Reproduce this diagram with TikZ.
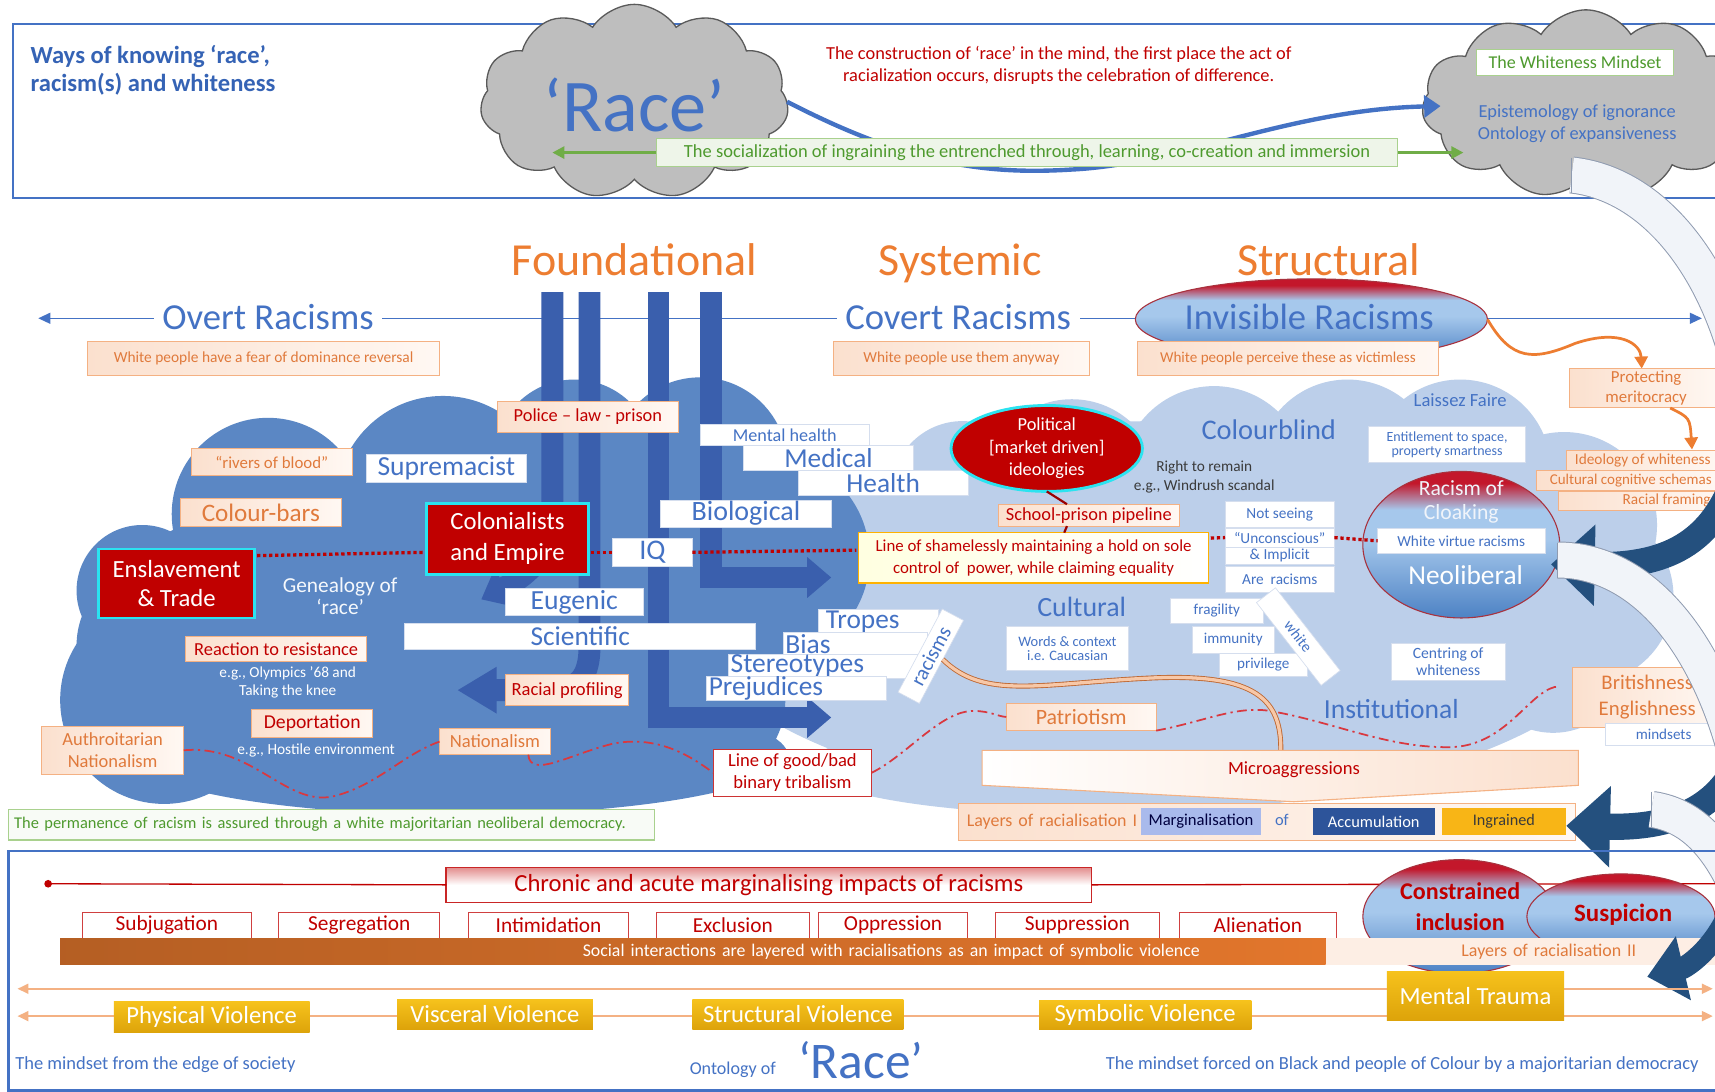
\documentclass[tikz,border=0pt]{standalone}
\usepackage{fontspec}
\setmainfont{Carlito}
\usetikzlibrary{shapes.geometric,shapes.symbols,arrows.meta,calc}

% palette
\definecolor{tblue}{HTML}{4472C4}
\definecolor{dblue}{HTML}{3563B5}
\definecolor{barblue}{HTML}{3A5FAD}
\definecolor{cloudL}{HTML}{5B87C4}
\definecolor{cloudR}{HTML}{BCCFEA}
\definecolor{tred}{HTML}{C00000}
\definecolor{torg}{HTML}{ED7D31}
\definecolor{sorg}{HTML}{E07A3C}
\definecolor{pborder}{HTML}{F4B183}
\definecolor{peachL}{HTML}{FBE0CE}
\definecolor{peachR}{HTML}{FFF8F3}
\definecolor{tgreen}{HTML}{4E9A2E}
\definecolor{garrow}{HTML}{70AD47}
\definecolor{gborder}{HTML}{A9D18E}
\definecolor{gfill}{HTML}{EEF5E9}
\definecolor{navy}{HTML}{24507E}
\definecolor{cyanb}{HTML}{2BE3F0}
\definecolor{cgray}{HTML}{BEBEBE}
\definecolor{cgrayline}{HTML}{5A5A5A}
\definecolor{wline}{HTML}{D5DEEE}
\definecolor{arcfill}{HTML}{F1F4F9}
\definecolor{arcline}{HTML}{8F9BB0}
\definecolor{ebot}{HTML}{4D82C4}
\definecolor{emid}{HTML}{A6C8EC}
\definecolor{etop}{HTML}{C3172B}
\definecolor{dashred}{HTML}{D9383F}
\definecolor{lorange}{HTML}{F4B183}
\definecolor{barorange}{HTML}{E2762C}
\definecolor{goldT}{HTML}{F6C21C}
\definecolor{goldB}{HTML}{DDA30A}
\definecolor{ellline}{HTML}{A8323E}
\definecolor{darktext}{HTML}{3A3A3A}

\pgfdeclareverticalshading{redtop}{100bp}{color(0bp)=(ebot); color(25bp)=(ebot); color(52bp)=(emid); color(62bp)=(emid); color(71bp)=(etop); color(75bp)=(etop); color(100bp)=(etop)}

\newcommand\fz[2]{\fontsize{#1}{#2}\selectfont}

\tikzset{
  wh/.style 2 args={minimum width=#1,minimum height=#2},
  wb/.style={fill=white,draw=wline,line width=0.6pt,text=tblue},
  pb/.style={left color=peachL,right color=peachR,draw=pborder,line width=0.9pt},
  rb/.style={fill=tred,draw=cyanb,line width=2.6pt,text=white,align=center},
  rowbox/.style={fill=white,draw=tred!75,line width=0.9pt,text=tred,minimum height=24,font=\fz{19.5}{22}},
  goldbox/.style={top color=goldT,bottom color=goldB,text=white,font=\fz{22.5}{26}},
  bar/.style={line width=20pt,barblue},
  reddot/.style={draw=tred,line width=3pt,dash pattern=on 3pt off 2.5pt},
  rdash/.style={draw=dashred,line width=1.6pt,dash pattern=on 9pt off 4pt on 2pt off 4pt},
  lightarc/.style={draw=arcline,line width=0.9pt,double=arcfill,double distance=32pt},
  navyarr/.style={navy,line width=24pt,-{Triangle[length=40pt,width=72pt]}},
  head/.style={text=torg,font=\fz{42}{48},anchor=base},
  sidetxt/.style={anchor=east,text=sorg,font=\fz{14}{16}},
}

\begin{document}
\begin{tikzpicture}[x=1pt,y=-1pt,every node/.style={inner sep=0pt,outer sep=0pt}]
\useasboundingbox (0,0) rectangle (1568,998);
\clip (0,0) rectangle (1568,998);
\fill[white] (0,0) rectangle (1568,998);

% ================= upper band: ways of knowing
\draw[tblue,line width=2.5pt] (12,22) rectangle (1600,181);
\node[anchor=west,text=dblue,font=\fz{22.5}{26}\bfseries,align=left] (title) at (28,64) {Ways of knowing ‘race’,\\racism(s) and whiteness};

\node[cloud,cloud puffs=11,cloud puff arc=115,aspect=1.6,draw=cgrayline,fill=cgray,line width=1.2pt,minimum width=282,minimum height=178] (racecloud) at (580,93) {};
\node[cloud,cloud puffs=11,cloud puff arc=115,aspect=1.7,draw=cgrayline,fill=cgray,line width=1.2pt,minimum width=300,minimum height=172] (wcloud) at (1450,95) {};
\node[text=tblue,font=\fz{68}{72}] (racetxt) at (580,96) {‘Race’};

\node[text=tred,font=\fz{16.8}{20},align=center] (construct) at (968,60) {The construction of ‘race’ in the mind, the first place the act of\\racialization occurs, disrupts the celebration of difference.};

\draw[tblue,line width=4pt,-{Triangle[length=15pt,width=20pt]}] (racecloud.east) .. controls (830,150) and (900,160) .. (980,155) .. controls (1080,150) and (1180,100) .. ($(wcloud.west)+(16,2)$);

\node[draw=gborder,fill=gfill,line width=1pt,text=tgreen,font=\fz{16.9}{19},wh={678}{25}] (social) at (939,139.5) {The socialization of ingraining the entrenched through, learning, co-creation and immersion};
\coordinate (gleft) at (505,139.5);
\coordinate (gright) at (1338,139.5);
\draw[garrow,line width=2.5pt,-{Triangle[length=11pt,width=11pt]}] (social.west) -- (gleft);
\draw[garrow,line width=2.5pt,-{Triangle[length=11pt,width=11pt]}] (social.east) -- (gright);

\node[draw=gborder,fill=white,line width=1pt,text=tgreen,font=\fz{16.5}{19},wh={180}{24}] (wmind) at (1440,57) {The Whiteness Mindset};
\node[text=tblue,font=\fz{16.8}{20},align=center] (epis) at (1442,113) {Epistemology of ignorance\\Ontology of expansiveness};

% light return arc leaving the whiteness cloud
\draw[lightarc] (1437,160) .. controls (1510,168) and (1568,240) .. (1592,340);
\draw[arcline,line width=0.9pt] (1437,144) -- (1437,176);

% ================= headings and the overt / covert / invisible axis
\node[head] (found) at (580,252) {Foundational};
\node[head] (syst) at (878,252) {Systemic};
\node[head] (struct) at (1215,252) {Structural};

\coordinate (axisL) at (35,291);
\coordinate (axisR) at (1556,291);
\draw[tblue,line width=1.3pt,{Triangle[length=11pt,width=10pt]}-{Triangle[length=11pt,width=10pt]}] (axisL) -- (axisR);
\node[fill=white,inner xsep=8pt,inner ysep=4pt,text=tblue,font=\fz{33.5}{38}] (overt) at (245,290) {Overt Racisms};
\node[fill=white,inner xsep=8pt,inner ysep=4pt,text=tblue,font=\fz{33.5}{38}] (covert) at (876,290) {Covert Racisms};
\node[ellipse,shade,shading=redtop,draw=ellline,line width=1pt,wh={322}{74}] (invis) at (1199,292) {};
\node[text=tblue,font=\fz{33.5}{38}] (invistxt) at (1197,290) {Invisible Racisms};

\node[pb,wh={322}{31},text=sorg,font=\fz{14.1}{16}] (fear) at (241,327.5) {White people have a fear of dominance reversal};
\node[pb,wh={234}{31},text=sorg,font=\fz{14}{16}] (anyway) at (879,327.5) {White people use them anyway};
\node[pb,wh={275}{31},text=sorg,font=\fz{13.8}{16}] (victim) at (1177.5,327.5) {White people perceive these as victimless};

% ================= the two clouds
\foreach \c/\r in {{980,445}/80,{1110,438}/85,{1232,430}/83,{1335,430}/83,{1430,480}/85,{1450,545}/80,{880,450}/65,{1420,600}/70}
  \fill[cloudR] (\c) circle [radius=\r];
\fill[cloudR] (1060,560) ellipse [x radius=430,y radius=175];
\fill[cloudR] (1000,700) ellipse [x radius=260,y radius=45];

\foreach \c/\r in {{245,470}/88,{130,540}/60,{405,460}/98,{525,420}/73,{640,425}/80,{700,510}/95,{150,640}/95,{640,640}/78}
  \fill[cloudL] (\c) circle [radius=\r];
\fill[cloudL] (400,590) ellipse [x radius=330,y radius=155];
\fill[cloudL] (420,690) ellipse [x radius=300,y radius=55];

% ================= genealogy bars
\draw[bar,-{Triangle[length=24pt,width=38pt]}] (505,267) -- (505,470) .. controls (505,505) and (485,525) .. (440,548);
\draw[bar,-{Triangle[length=36pt,width=40pt]}] (539,267) -- (539,590) .. controls (539,625) and (525,631) .. (495,631) -- (418,631);
\draw[bar,line join=miter,-{Triangle[length=22pt,width=36pt]}] (602,267) -- (602,656) -- (760,656);
\draw[bar,line join=miter,-{Triangle[length=22pt,width=36pt]}] (650,267) -- (650,528) -- (760,528);

% ================= left cloud labels
\node[pb,wh={165}{28},text=tred,font=\fz{16.8}{19}] (police) at (537.5,381) {Police – law - prison};
\node[wb,wh={155}{19},font=\fz{16.6}{19}] (mental) at (717.5,397.5) {Mental health};
\node[wb,wh={155}{23},font=\fz{25}{28}] (medical) at (757.5,418.5) {Medical};
\node[wb,wh={155}{23},font=\fz{25}{28}] (health) at (807.5,441.5) {Health};
\node[pb,wh={147}{25},text=sorg,font=\fz{15.4}{18}] (rivers) at (248.5,422.5) {“rivers of blood”};
\node[wb,wh={146}{26},font=\fz{25.2}{28}] (suprem) at (408,428) {Supremacist};
\node[pb,wh={147}{25},text=sorg,font=\fz{23}{26}] (colourbars) at (238.5,468.5) {Colour-bars};
\node[rb,wh={148}{65},font=\fz{22.6}{28}] (colonial) at (464,492.5) {Colonialists\\and Empire};
\node[wb,wh={156}{25},font=\fz{25.6}{28}] (biological) at (682,469.5) {Biological};
\node[wb,wh={73}{26},font=\fz{26}{28}] (iq) at (596.5,505) {IQ};
\node[rb,wh={143}{63},font=\fz{22.6}{26}] (enslave) at (161.5,533.5) {Enslavement\\\& Trade};
\node[text=white!85!cloudR,font=\fz{19.5}{23}] (genealogy) at (311,545) {\shortstack{Genealogy of\\‘race’}};
\node[wb,wh={126}{25},font=\fz{25.3}{28}] (eugenic) at (525,550.5) {Eugenic};
\node[wb,wh={321}{24},font=\fz{25}{28}] (scientific) at (530.5,582) {Scientific};
\node[pb,wh={165}{23},text=tred,font=\fz{16.8}{19}] (reaction) at (252.5,593.5) {Reaction to resistance};
\node[text=white,font=\fz{14}{16},align=center] (olympics) at (263,624) {e.g., Olympics ’68 and\\Taking the knee};
\node[pb,wh={113}{28},text=tred,font=\fz{17}{19}] (racialprof) at (518.5,631) {Racial profiling};
\node[pb,wh={111}{25},text=tred,font=\fz{18}{20}] (deport) at (285.5,661.5) {Deportation};
\node[text=white,font=\fz{14.1}{16}] (hostile) at (289,686) {e.g., Hostile environment};
\node[pb,wh={130}{44},text=sorg,font=\fz{16.9}{20},align=center] (authnat) at (103,686) {Authroitarian\\Nationalism};
\node[pb,wh={101}{24},text=sorg,font=\fz{17}{19}] (nationalism) at (452.5,678) {Nationalism};
\node[fill=white,draw=tred!80,line width=1pt,wh={145}{43},text=tred,font=\fz{17}{20.5},align=center] (goodbad) at (724.5,706.5) {Line of good/bad\\binary tribalism};

\node[wb,minimum height=24,text width=96,inner xsep=7pt,align=left,font=\fz{25}{28}] (tropes) at (803,569) {Tropes};
\node[wb,minimum height=22,text width=128,inner xsep=2pt,align=left,font=\fz{25.2}{28}] (bias) at (782,589) {Bias};
\node[wb,minimum height=22,text width=180,inner xsep=2pt,align=left,font=\fz{25.2}{28}] (stereo) at (758,609) {Stereotypes};
\node[wb,minimum height=22,text width=160,inner xsep=2pt,align=left,font=\fz{25}{28}] (prejud) at (728,629) {Prejudices};
\node[wb,wh={86}{22},rotate=62,font=\fz{19}{20}] (racisms) at (851,600) {racisms};

% ================= right cloud labels
\node[ellipse,fill=tred,draw=cyanb,line width=2.6pt,wh={175}{78},text=white,font=\fz{16.8}{20.5},align=center] (political) at (957,410) {Political\\{[market driven]}\\ideologies};
\node[text=darktext,font=\fz{14}{17},align=center] (remain) at (1101,436) {Right to remain\\e.g., Windrush scandal};
\node[text=tblue,font=\fz{26}{30}] (colourblind) at (1160,393) {Colourblind};
\node[text=tblue,font=\fz{17}{19}] (laissez) at (1335,366) {Laissez Faire};
\node[wb,wh={144}{33},font=\fz{12.8}{15}] (entitle) at (1323,406.5) {\shortstack{Entitlement to space,\\property smartness}};
\node[pb,wh={165}{20},text=tred,font=\fz{16.8}{19}] (school) at (995.5,471) {School-prison pipeline};
\node[left color=white!70!yellow!40,right color=white,draw=orange!60!yellow,line width=1pt,wh={320}{46},text=tred,font=\fz{15.4}{20},align=center] (shameless) at (945,510) {Line of shamelessly maintaining a hold on sole\\control of\ \ power, while claiming equality};
\draw[tred!80!black,line width=2pt] (political.south) -- ($(school.north)+(-20,0)$);
\draw[tred!80!black,line width=2pt] ($(school.south)+(-20,0)$) -- ($(shameless.north)+(28,0)$);

\node[wb,wh={100}{24},font=\fz{14}{16}] (notseeing) at (1170,470) {Not seeing};
\node[wb,wh={100}{17},font=\fz{14}{16}] (uncon) at (1170,491.5) {“Unconscious”};
\node[wb,wh={100}{16},font=\fz{14}{16}] (implicit) at (1170,508) {\& Implicit};
\node[wb,wh={100}{24},font=\fz{14}{16}] (areracisms) at (1170,530) {Are\ \ racisms};

\node[ellipse,shade,shading=redtop,draw=ellline,line width=1pt,wh={180}{134}] (neolib) at (1336,498) {};
\node[text=white!92!tblue,font=\fz{19.8}{22}] (racismof) at (1336,446) {Racism of};
\node[text=white!92!tblue,font=\fz{19.8}{22}] (cloaking) at (1336,470) {Cloaking};
\node[wb,wh={153}{23},font=\fz{14}{16}] (wvirtue) at (1336,494.5) {White virtue racisms};
\node[text=white,font=\fz{25}{28}] (neoliberal) at (1340,526) {Neoliberal};

\node[text=tblue,font=\fz{25.5}{28}] (cultural) at (989,555) {Cultural};
\node[wb,wh={112}{40},font=\fz{13.2}{16}] (words) at (976,593) {\shortstack{Words \& context\\i.e. Caucasian}};
\node[wb,wh={85}{23},font=\fz{13.8}{16}] (fragility) at (1112.5,558.5) {fragility};
\node[wb,wh={75}{24},font=\fz{13.8}{16}] (immunity) at (1127.5,585) {immunity};
\node[wb,wh={80}{21},font=\fz{13.8}{16}] (privilege) at (1155,607.5) {privilege};
\node[wb,wh={96}{22},rotate=-52,font=\fz{14}{15}] (whiteb) at (1187,582) {white};
\node[wb,wh={104}{34},font=\fz{14.3}{16}] (centring) at (1324,605) {\shortstack{Centring of\\whiteness}};
\node[text=tblue,font=\fz{25.2}{28}] (institutional) at (1272,648) {Institutional};
\node[pb,wh={137}{25},text=sorg,font=\fz{20}{24}] (patriotism) at (988.5,655.5) {Patriotism};

% ================= top-right chain of ideas
\draw[torg,line width=2.5pt,-{Triangle[length=11pt,width=12pt]}] (invis.east) .. controls (1382,330) and (1402,330) .. (1440,314) .. controls (1482,300) and (1500,315) .. (1501,337);
\node[pb,wh={140}{36},text=sorg,font=\fz{15.4}{18},align=center] (protect) at (1505,355) {Protecting\\meritocracy};
\draw[torg,line width=2.5pt,-{Triangle[length=11pt,width=12pt]}] ($(protect.south)+(22,0)$) .. controls (1545,382) .. (1547,411);
\node[pb,anchor=east,wh={143}{18}] (ideo) at (1575,421) {};
\node[sidetxt] (ideotxt) at (1564,421) {Ideology of whiteness};
\node[pb,anchor=east,wh={170}{18}] (schema) at (1575,439) {};
\node[sidetxt,font=\fz{13.7}{16}] (schematxt) at (1565,439) {Cultural cognitive schemas};
\node[pb,anchor=east,wh={150}{18}] (frame) at (1575,458) {};
\node[sidetxt] (frametxt) at (1564,458) {Racial framing};

% ================= lines running through the clouds
\draw[reddot] ($(enslave.north east)+(2,6)$) -- ($(colonial.north west)+(-2,45)$);
\draw[reddot] ($(colonial.north east)+(2,45)$) -- (iq.west);
\draw[reddot] (iq.east) -- ($(shameless.north west)+(-2,16)$);
\draw[reddot] ($(shameless.north east)+(2,5)$) -- (uncon.west);
\draw[reddot] (uncon.east) -- (wvirtue.west);

\draw[rdash] (authnat.east) .. controls (230,680) and (262,738) .. (305,728) .. controls (345,718) and (368,690) .. (nationalism.west);
\draw[rdash] ($(nationalism.south east)+(-20,0)$) .. controls (485,712) and (520,690) .. (560,680) .. controls (600,672) and (630,690) .. (goodbad.west);
\draw[rdash] (goodbad.east) .. controls (830,690) and (860,650) .. (890,650) .. controls (905,650) and (912,655) .. (patriotism.west);
\draw[rdash] (patriotism.south east) .. controls (1100,660) and (1130,645) .. (1161,650) .. controls (1220,660) and (1270,685) .. (1329,683) .. controls (1380,680) and (1400,628) .. ($(patriotism.west)+(506,-28)$);

\node[pb,wh={137}{55},text=sorg,font=\fz{19}{24},align=center] (british) at (1506,637.5) {Britishness\\Englishness};
\node[wb,wh={107}{20},font=\fz{13.8}{16}] (mindsets) at (1521,671) {mindsets};

\coordinate (rcstart) at (862,603);
\coordinate (microtop) at (1171,688);
\draw[draw=sorg!85!black,line width=0.8pt,double=pborder!70,double distance=3pt] (rcstart) .. controls (900,640) and (950,625) .. (1050,620) .. controls (1150,615) and (1172,640) .. (microtop);

\draw[draw=pborder,line width=1pt,left color=white,right color=peachL] (898,686) -- (1443,686) -- (1443,718) -- (1183,733) -- (898,718) -- cycle;
\node[text=tred,font=\fz{17}{19}] (micro) at (1183,704) {Microaggressions};

\node[pb,minimum height=33,text width=548,inner xsep=8pt,align=left,text=sorg,font=\fz{16.4}{18}] (layers1) at (1158,751.5) {Layers of racialisation I};
\node[fill=cloudR!90!blue,wh={110}{24},text=blue!25!black,font=\fz{15.2}{17}] (margin) at (1098,751) {Marginalisation};
\node[text=tblue,font=\fz{15}{17}] (oftxt) at (1172,750) {of};
\node[fill=dblue!85!black,wh={112}{24},text=white,font=\fz{15}{17}] (accum) at (1256,751) {Accumulation};
\node[fill=goldT!80!orange,wh={114}{24},text=darktext,font=\fz{14.8}{17}] (ingrained) at (1375,751) {Ingrained};

\node[draw=gborder,fill=gfill!40,line width=1pt,minimum height=28,text width=580,inner xsep=5pt,align=left,text=tgreen,font=\fz{15}{17}] (perm) at (303,754) {The permanence of racism is assured through a white majoritarian neoliberal democracy.};

% ================= cycle of arrows along the right edge
\draw[navyarr] (1590,425) .. controls (1568,500) and (1520,518) .. (1418,516);
\draw[lightarc] (1424,512) .. controls (1500,512) and (1562,585) .. (1590,700);
\draw[arcline,line width=0.9pt] (1424,496) -- (1424,528);
\draw[navyarr] (1592,690) .. controls (1570,745) and (1520,757) .. (1432,755);
\draw[lightarc] (1510,740) .. controls (1545,745) and (1570,770) .. (1590,815);
\draw[arcline,line width=0.9pt] (1510,724) -- (1510,756);

% ================= lower band: impacts
\draw[tblue,line width=2.5pt] (8,778) rectangle (1600,997);
\fill[tred] (44,808) circle [radius=3.5];
\coordinate (dotpt) at (44,808);
\coordinate (redend) at (1570,808);
\node[top color=tred!45,bottom color=white,middle color=white,draw=tred!85,line width=1.5pt,wh={590}{32},text=tred,font=\fz{22.5}{25}] (chronic) at (703,809) {Chronic and acute marginalising impacts of racisms};
\draw[tred,line width=1.2pt] (dotpt) -- (chronic.west);
\draw[tred,line width=1.2pt] (chronic.east) -- (redend);

\node[rowbox,minimum width=155] (subj) at (152.5,846) {Subjugation};
\node[rowbox,minimum width=147] (segr) at (328.5,846) {Segregation};
\node[rowbox,minimum width=147] (intim) at (501.5,846) {Intimidation};
\node[rowbox,minimum width=140] (excl) at (670,846) {Exclusion};
\node[rowbox,minimum width=137] (oppr) at (816.5,846) {Oppression};
\node[rowbox,minimum width=150] (suppr) at (985,846) {Suppression};
\node[rowbox,minimum width=144] (alien) at (1150,846) {Alienation};

\node[ellipse,shade,shading=redtop,draw=ellline,line width=1pt,wh={176}{104}] (constr) at (1334,838) {};
\node[ellipse,shade,shading=redtop,draw=ellline,line width=1pt,wh={172}{78}] (suspic) at (1482,838) {};
\node[text=tred,font=\fz{22}{28}\bfseries,align=center] (constrtxt) at (1335,829) {Constrained\\inclusion};
\node[text=tred,font=\fz{22.8}{26}\bfseries] (suspictxt) at (1484,836) {Suspicion};

\node[left color=barorange!80!black,right color=barorange,minimum height=24,text width=927,inner xsep=115pt,align=right,text=white,font=\fz{16.3}{18}] (socialbar) at (633.5,870) {Social interactions are layered with racialisations as an impact of symbolic violence};
\node[fill=peachR!60!peachL,minimum height=24,text width=205,inner xsep=79pt,align=right,text=sorg,font=\fz{16.4}{18}] (layers2) at (1393.5,870) {Layers of racialisation II};

\draw[navyarr,line width=20pt,-{Triangle[length=34pt,width=58pt]}] (1582,832) .. controls (1566,870) and (1540,885) .. (1506,893);

\coordinate (o1l) at (16,904);
\coordinate (o1r) at (1566,904);
\coordinate (o2l) at (16,929);
\coordinate (o2r) at (1566,929);
\draw[lorange,line width=2pt,{Triangle[length=10pt,width=9pt]}-{Triangle[length=10pt,width=9pt]}] (o1l) -- (o1r);
\draw[lorange,line width=2pt,{Triangle[length=10pt,width=9pt]}-{Triangle[length=10pt,width=9pt]}] (o2l) -- (o2r);

\node[goldbox,wh={179}{28}] (phys) at (193.5,930) {Physical Violence};
\node[goldbox,wh={179}{27}] (visc) at (452.5,927.5) {Visceral Violence};
\node[goldbox,wh={193}{27}] (structv) at (729.5,927.5) {Structural Violence};
\node[goldbox,wh={194}{26}] (symb) at (1047,928) {Symbolic Violence};
\node[goldbox,wh={162}{45}] (trauma) at (1349,910.5) {Mental Trauma};

\node[anchor=west,text=tblue,font=\fz{16.9}{19}] (edge) at (14,973) {The mindset from the edge of society};
\node[text=tblue,font=\fz{16.5}{18}] (ontology) at (670,978) {Ontology of};
\node[anchor=base,text=tblue,font=\fz{47}{50}] (race2) at (787,986) {‘Race’};
\node[anchor=east,text=tblue,font=\fz{16.9}{19}] (forced) at (1553,973) {The mindset forced on Black and people of Colour by a majoritarian democracy};
\end{tikzpicture}
\end{document}
